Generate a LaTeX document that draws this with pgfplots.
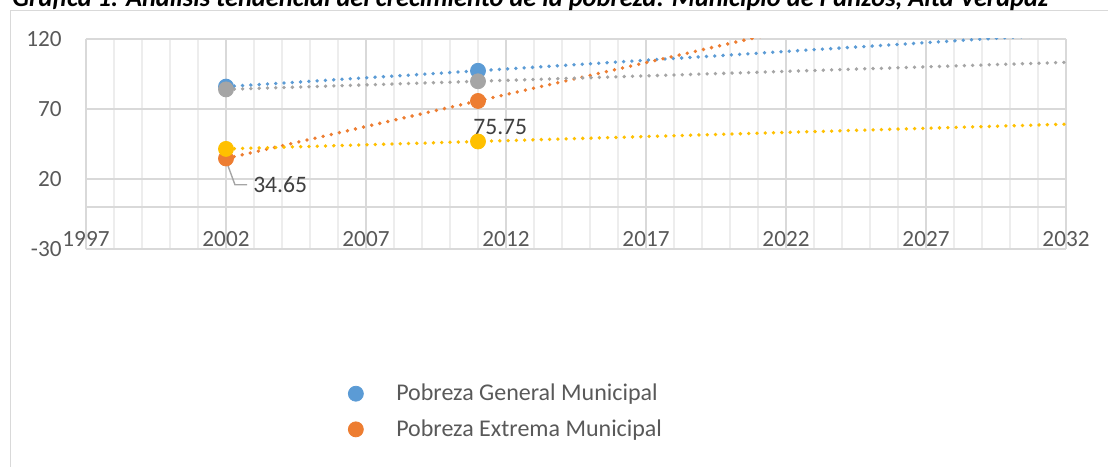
\documentclass[border=0pt]{standalone}
\usepackage{fontspec}
\setmainfont{Carlito}
\usepackage{pgfplots}
\pgfplotsset{compat=1.18}

\definecolor{cBlue}{HTML}{5B9BD5}
\definecolor{cOrange}{HTML}{ED7D31}
\definecolor{cGray}{HTML}{A5A5A5}
\definecolor{cYellow}{HTML}{FFC000}
\definecolor{cGrid}{HTML}{D9D9D9}
\definecolor{cMinor}{HTML}{EDEDED}
\definecolor{cAxis}{HTML}{C8C8C8}
\definecolor{cText}{HTML}{595959}
\definecolor{cLabel}{HTML}{404040}

\pgfplotsset{
  trend/.style={line width=1.9pt, line cap=round, dash pattern=on 0pt off 4.15pt, forget plot},
  pts/.style={only marks, mark=*, mark size=3.75pt, mark options={draw=#1, fill=#1}, color=#1},
}

\begin{document}
\begin{tikzpicture}
% chart frame (runs off the right and bottom of the picture)
\draw[draw=cGrid, line width=0.7pt] (570pt,227.75pt) -- (5.25pt,227.75pt) -- (5.25pt,-10pt);
% title, cut by the top edge as in the reference
\node[anchor=base west, inner sep=0pt, font=\fontsize{13.2}{15}\selectfont\bfseries\itshape]
  at (6pt,229.6pt) {Gráfica 1. Análisis tendencial del crecimiento de la pobreza: Municipio de Panzós, Alta Verapaz};

\begin{axis}[at={(43pt,108.5pt)}, anchor=south west, scale only axis,
  width=490pt, height=105pt,
  xmin=1997, xmax=2032, ymin=-30, ymax=120,
  xtick={1997,2002,...,2032}, ytick={-30,20,70,120},
  minor x tick num=4,
  xmajorgrids, xminorgrids, ymajorgrids,
  major grid style={draw=cGrid, line width=0.7pt},
  minor grid style={draw=cMinor, line width=0.7pt},
  axis line style={draw=none},
  major tick length=0pt, minor tick length=0pt,
  extra y ticks={0}, extra y tick labels={},
  extra y tick style={grid style={draw=cAxis, line width=0.9pt}},
  tick label style={font=\fontsize{11.6}{13.9}\selectfont, text=cText},
  /pgf/number format/assume math mode=true,
  /pgf/number format/1000 sep={},
  xticklabel style={anchor=base, yshift=1.2pt},
  yticklabel style={anchor=east, inner sep=0pt, xshift=-12pt},
  legend style={at={(0.2673,-0.774)}, anchor=west, draw=none, fill=none,
    inner sep=0pt, outer sep=0pt, font=\fontsize{12}{14.4}\selectfont, text=cText,
    row sep=6pt, nodes={inner sep=1pt}},
  legend cell align=left,
  legend image code/.code={\path (-3.75pt,0pt) (19pt,0pt); \draw[#1] plot coordinates {(0pt,0pt)};},
]
% linear trend lines, 2002 to 2032
\addplot[trend, cBlue]   coordinates {(2002,86.0) (2032,123.67)};
\addplot[trend, cOrange] coordinates {(2002,34.65) (2032,171.65)};
\addplot[trend, cGray]   coordinates {(2002,84.0) (2032,103.33)};
\addplot[trend, cYellow] coordinates {(2002,41.5) (2032,59.17)};
% leader line of the 34.65 label
\draw[cGray, line width=0.7pt] (axis cs:2002.07,29.5) -- (axis cs:2002.32,15.9) -- (axis cs:2002.75,15.9);
% observed values
\addplot[pts=cBlue]   coordinates {(2002,86.0) (2011,97.3)};
\addplot[pts=cOrange] coordinates {(2002,34.65) (2011,75.75)};
\addplot[pts=cGray, forget plot]   coordinates {(2002,84.0) (2011,89.8)};
\addplot[pts=cYellow, forget plot] coordinates {(2002,41.5) (2011,46.8)};
\node[anchor=west, inner sep=0pt, font=\fontsize{11.8}{14}\selectfont, text=cLabel] at (axis cs:2002.96,15.9) {34.65};
\node[anchor=west, inner sep=0pt, font=\fontsize{11.8}{14}\selectfont, text=cLabel] at (axis cs:2010.82,57) {75.75};
\legend{Pobreza General Municipal, Pobreza Extrema Municipal}
\end{axis}
\pgfresetboundingbox
\useasboundingbox (0pt,0pt) rectangle (554pt,233pt);
\end{tikzpicture}
\end{document}
